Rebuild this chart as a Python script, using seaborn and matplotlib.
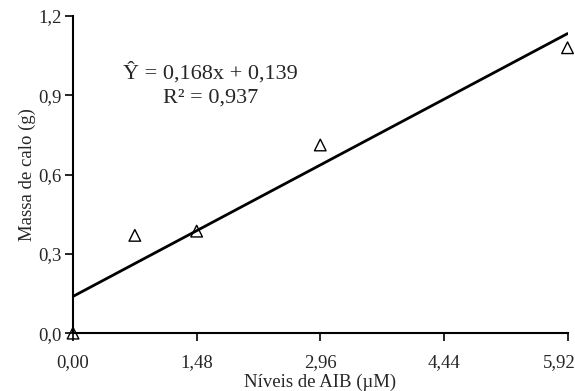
import numpy as np
import pandas as pd
import matplotlib
matplotlib.use("Agg")
import matplotlib.pyplot as plt
import matplotlib.transforms as mtransforms
import seaborn as sns

# data
niveis = [0.0, 0.74, 1.48, 2.96, 5.92]
massa = [0.0, 0.37, 0.386, 0.712, 1.08]
coef_a = 0.168
coef_b = 0.139
xticks = [0.0, 1.48, 2.96, 4.44, 5.92]
yticks = [0.0, 0.3, 0.6, 0.9, 1.2]

sns.set_style("white")
plt.rcParams['font.family'] = ['Liberation Serif', 'DejaVu Serif']

df = pd.DataFrame({'x': niveis, 'y': massa})
fit = pd.DataFrame({'x': [0.0, 5.92]})
fit['y'] = coef_a * fit['x'] + coef_b

fig = plt.figure(figsize=(5.75, 3.91), dpi=100)
ax = fig.add_axes([0.127, 0.148, 0.86, 0.811])

sns.lineplot(data=fit, x='x', y='y', color='black', linewidth=2, ax=ax)
sns.scatterplot(data=df, x='x', y='y', marker='^', s=70, facecolor='none',
                edgecolor='black', linewidth=1, ax=ax, zorder=5, clip_on=False)

ax.set_xlim(0, 5.92)
ax.set_ylim(0, 1.2)
ax.set_xticks(xticks)
ax.set_yticks(yticks)
ax.set_xticklabels([f"{v:.2f}".replace('.', ',') for v in xticks], fontsize=13.5)
ax.set_yticklabels([f"{v:.1f}".replace('.', ',') for v in yticks], fontsize=13.5)
ax.tick_params(axis='both', direction='out', length=6, width=1.2, color='black')
ax.tick_params(axis='x', pad=9)
ax.tick_params(axis='y', pad=2)
ax.xaxis.set_ticks_position('bottom')
ax.yaxis.set_ticks_position('left')

# last x label shifted left so it stays inside the figure
last = ax.get_xticklabels()[-1]
last.set_transform(last.get_transform() +
                   mtransforms.ScaledTranslation(-8 / 100, 0, fig.dpi_scale_trans))

ax.set_xlabel('Níveis de AIB (µM)', fontsize=13.5, labelpad=2)
ax.set_ylabel('Massa de calo (g)', fontsize=13.5, labelpad=2)

sns.despine(ax=ax)
for s in ['left', 'bottom']:
    ax.spines[s].set_linewidth(1.5)
    ax.spines[s].set_color('black')

ax.text(1.65, 0.94, 'Ŷ = 0,168x + 0,139\nR² = 0,937', ha='center', va='center',
        fontsize=16, linespacing=1.3)

fig.savefig('out.png', dpi=100)
